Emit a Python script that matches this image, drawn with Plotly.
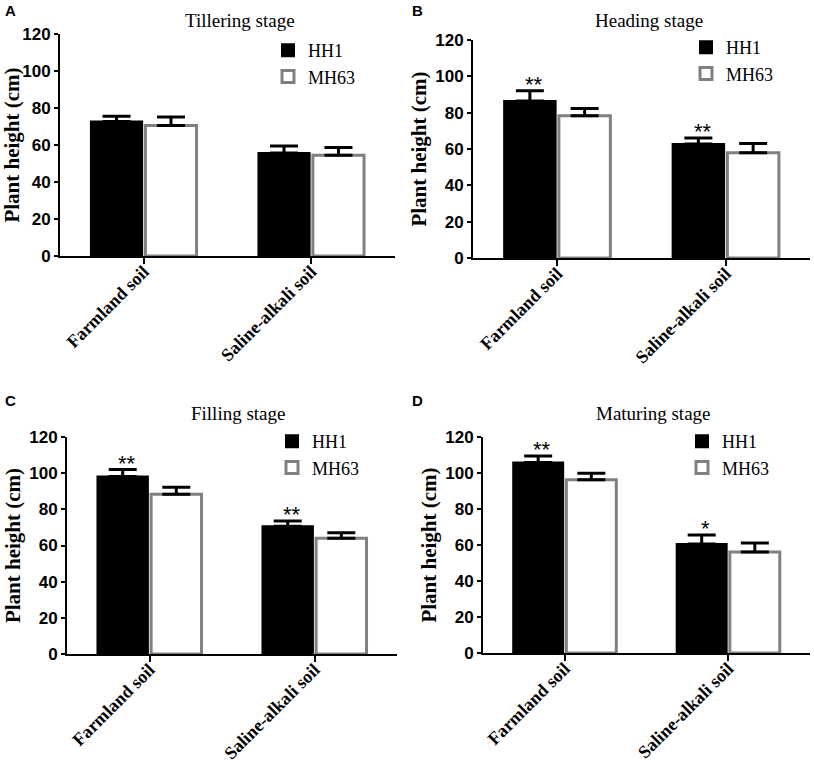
import plotly.graph_objects as go

categories = ["Farmland soil", "Saline-alkali soil"]
series_names = ["HH1", "MH63"]
panel_letters = ["A", "B", "C", "D"]
panel_titles = ["Tillering stage", "Heading stage", "Filling stage", "Maturing stage"]

hh1_means = [[72.7, 55.7], [86.4, 62.8], [98.1, 70.6], [105.9, 60.6]]
hh1_errs = [[2.9, 3.8], [5.6, 3.2], [3.9, 2.9], [3.5, 5.0]]
mh63_means = [[70.5, 54.5], [78.3, 57.9], [88.4, 64.0], [96.3, 56.1]]
mh63_errs = [[4.7, 4.1], [4.0, 5.1], [3.8, 3.1], [3.5, 5.0]]
hh1_sig = [["", ""], ["**", "**"], ["**", "**"], ["**", "*"]]

y_ticks = [0, 20, 40, 60, 80, 100, 120]
y_title = "Plant height (cm)"

W, H = 814, 767
# plot areas in pixels: (left, right, top, bottom)
boxes = [(60, 395, 34, 256), (473, 810, 40, 258), (67, 397, 437, 654), (483, 810, 437, 653)]
legend_pos = [(268, 32), (686, 29), (272, 423), (682, 423)]
title_pos = [(240, 21), (649, 21), (238, 413), (653, 413)]
letter_pos = [(3, 10), (410, 10), (3, 400), (410, 400)]

SERIF = "Liberation Serif, Times New Roman, serif"
SANS = "Liberation Sans, Arial, sans-serif"

fig = go.Figure()
annotations = []
for i in range(4):
    sfx = "" if i == 0 else str(i + 1)
    xa, ya = "x" + sfx, "y" + sfx
    leg = "legend" + sfx
    fig.add_trace(go.Bar(
        x=categories, y=hh1_means[i], name=series_names[0],
        xaxis=xa, yaxis=ya, legend=leg,
        marker=dict(color="black", line=dict(color="black", width=2)),
        error_y=dict(type="data", array=hh1_errs[i], arrayminus=[0, 0], symmetric=False,
                     color="black", thickness=3, width=14),
    ))
    fig.add_trace(go.Bar(
        x=categories, y=mh63_means[i], name=series_names[1],
        xaxis=xa, yaxis=ya, legend=leg,
        marker=dict(color="white", line=dict(color="#808080", width=3)),
        error_y=dict(type="data", array=mh63_errs[i], arrayminus=[0, 0], symmetric=False,
                     color="black", thickness=3, width=14),
    ))
    l, r, t, b = boxes[i]
    fig.layout["xaxis" + sfx] = dict(
        domain=[l / W, r / W], anchor=ya, range=[-0.5, 1.5], automargin=False,
        showline=True, linecolor="black", linewidth=2, ticks="outside",
        ticklen=6, tickwidth=2, tickcolor="black", tickangle=-45,
        ticklabelstandoff=-10,
        tickfont=dict(family=SERIF, size=18, color="black", weight="bold"),
        showgrid=False, zeroline=False, fixedrange=True,
    )
    fig.layout["yaxis" + sfx] = dict(
        domain=[1 - b / H, 1 - t / H], anchor=xa, range=[0, 120], automargin=False,
        tickvals=y_ticks, showline=True, linecolor="black", linewidth=2,
        ticks="outside", ticklen=4, tickwidth=2, tickcolor="black",
        tickfont=dict(family=SANS, size=17, color="black", weight="bold"),
        title=dict(text=y_title, font=dict(family=SERIF, size=21, color="black", weight="bold"), standoff=3),
        showgrid=False, zeroline=False, fixedrange=True,
    )
    lx, ly = legend_pos[i]
    fig.layout[leg] = dict(
        x=lx / W, y=1 - ly / H, xanchor="left", yanchor="top",
        bgcolor="rgba(0,0,0,0)", font=dict(family=SERIF, size=18, color="black"),
        tracegroupgap=0,
    )
    tx, ty = title_pos[i]
    annotations.append(dict(text=panel_titles[i], x=tx / W, y=1 - ty / H, xref="paper", yref="paper",
                            showarrow=False, xanchor="center", yanchor="middle",
                            font=dict(family=SERIF, size=19, color="black")))
    px, py = letter_pos[i]
    annotations.append(dict(text=panel_letters[i], x=px / W, y=1 - py / H, xref="paper", yref="paper",
                            showarrow=False, xanchor="left", yanchor="middle",
                            font=dict(family=SANS, size=15, color="black", weight="bold")))
    for j, cat in enumerate(categories):
        if hh1_sig[i][j]:
            annotations.append(dict(text=hh1_sig[i][j], x=cat, y=hh1_means[i][j] + hh1_errs[i][j],
                                    xref=xa, yref=ya, showarrow=False, xanchor="center",
                                    yanchor="bottom", xshift=-23, yshift=-8,
                                    font=dict(family=SANS, size=22, color="black")))

fig.update_layout(
    width=W, height=H, margin=dict(l=0, r=0, t=0, b=0, autoexpand=False),
    paper_bgcolor="white", plot_bgcolor="white",
    barmode="group", bargap=0.35, bargroupgap=0.06,
    annotations=annotations,
)
post = (
    "document.documentElement.style.margin='0';"
    "document.body.style.margin='0';document.body.style.padding='0';"
    "document.body.style.overflow='hidden';"
)
fig.write_html("out.html", config={"displayModeBar": False}, post_script=post)
